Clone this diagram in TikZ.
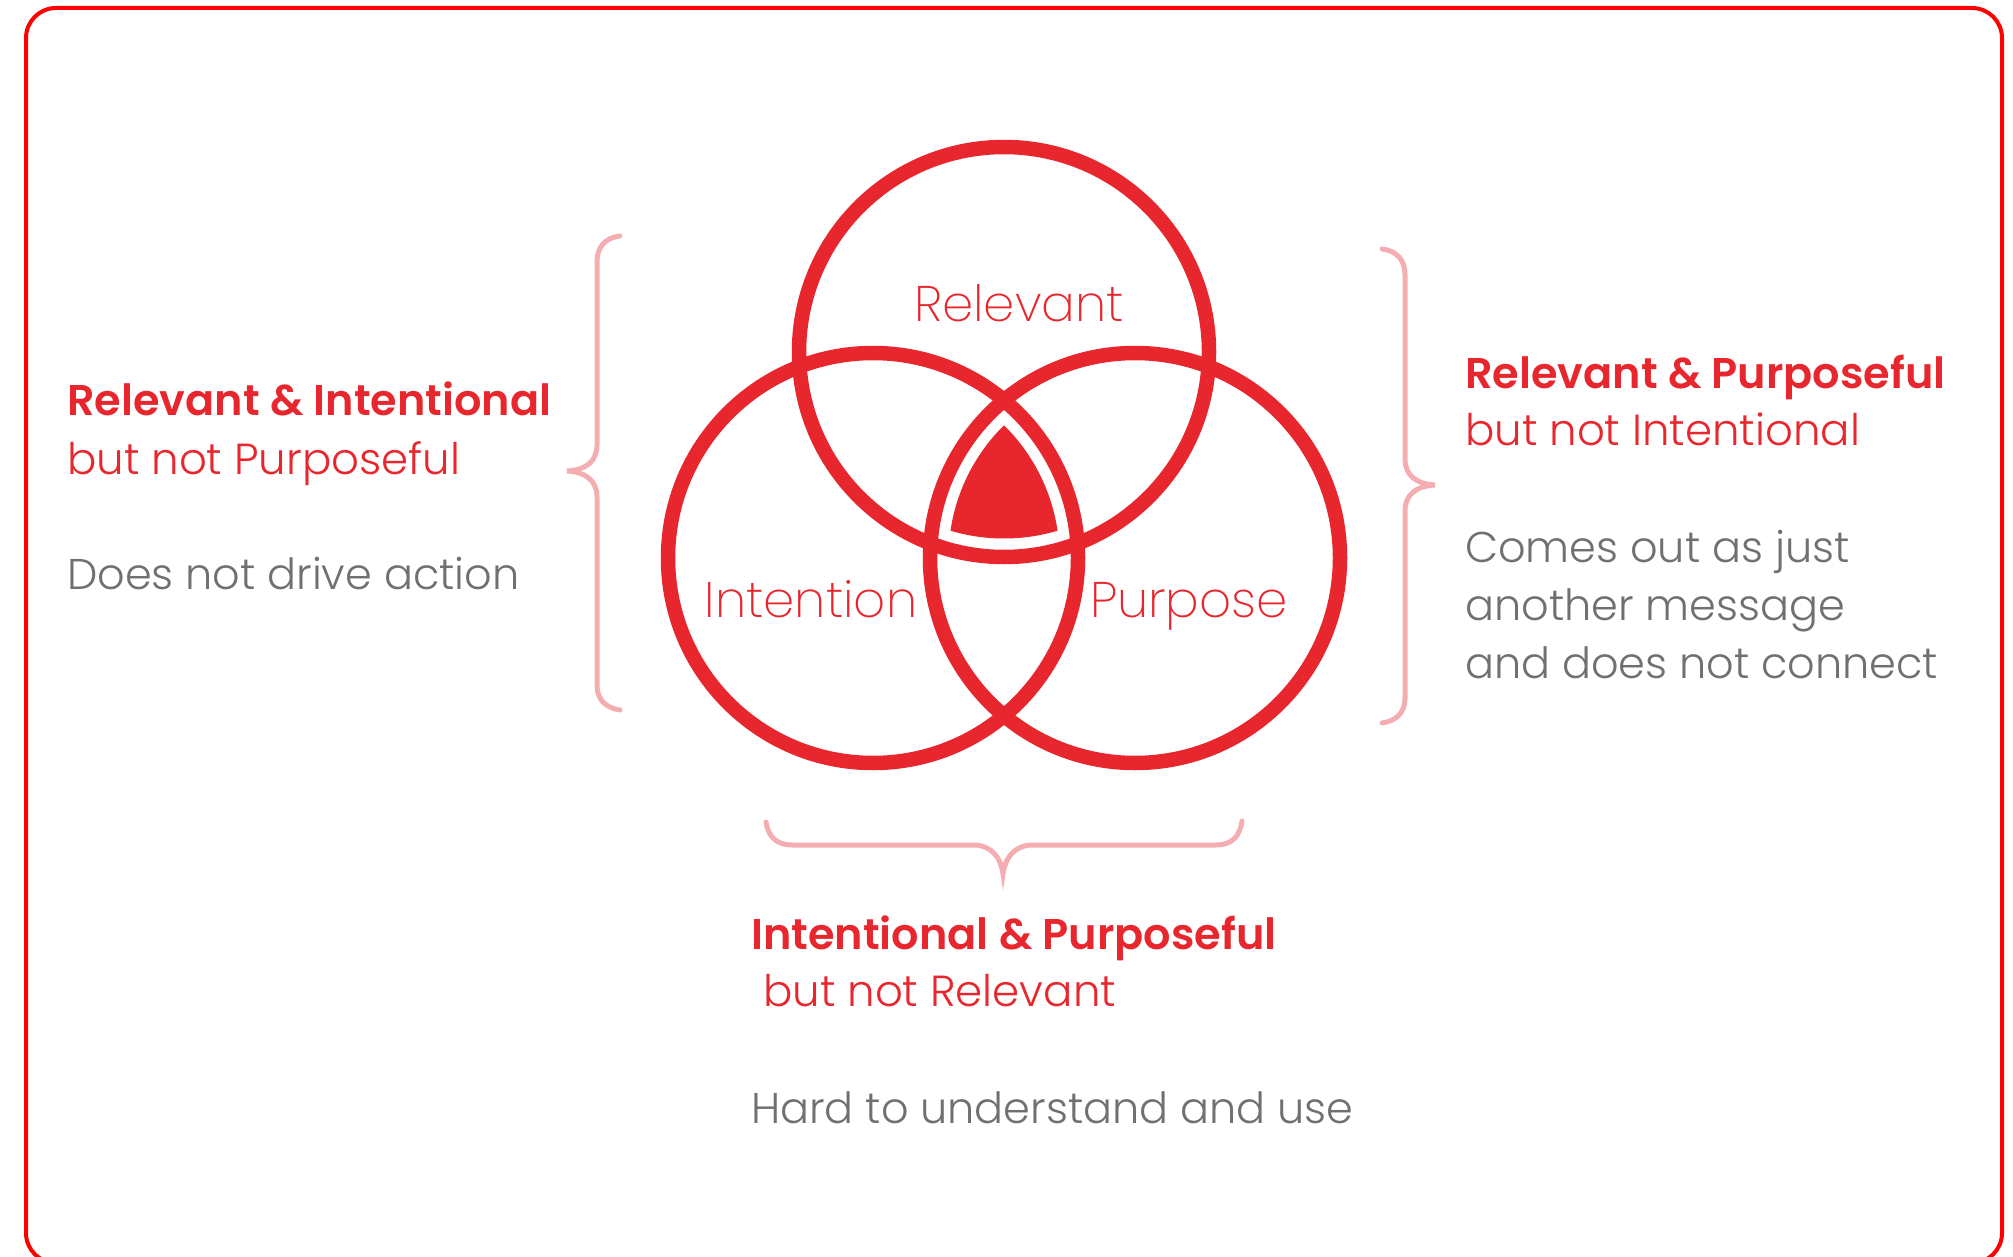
\documentclass[tikz,border=0pt]{standalone}
\usepackage{fontspec}
\setmainfont{Poppins}
\newfontfamily\boldfont{Poppins SemiBold}
\newfontfamily\bookfont{Poppins Light}
\newfontfamily\thinfont{Poppins ExtraLight}
\definecolor{vred}{HTML}{E8262D}
\definecolor{vgray}{HTML}{707070}
\definecolor{vpink}{HTML}{F4AEB1}
\definecolor{vframe}{HTML}{FF0000}
\begin{document}
\begin{tikzpicture}[x=1pt,y=-1pt,
  ring/.style={draw=vred,line width=14.5pt},
  brace/.style={draw=vpink,line width=5pt,line cap=round},
  head/.style={anchor=base west,text=vred,font=\boldfont\fontsize{43}{52}\selectfont,inner sep=0pt},
  sub/.style={anchor=base west,text=vred,font=\bookfont\fontsize{43.5}{52}\selectfont,inner sep=0pt},
  note/.style={anchor=base west,text=vgray,font=\bookfont\fontsize{43}{52}\selectfont,inner sep=0pt},
  lbl/.style={anchor=base,text=vred,font=\thinfont\fontsize{50}{60}\selectfont,inner sep=0pt}]
\useasboundingbox (0,0) rectangle (2013,1257);
\begin{scope}
  \clip (0,0) rectangle (2013,1257);
  \draw[draw=vframe,line width=4pt,rounded corners=30pt] (26,8) rectangle (2002,1263);
\end{scope}
% filled centre
\begin{scope}
  \clip (1004,352) circle[radius=186.5pt];
  \clip (873,558) circle[radius=186.5pt];
  \fill[vred] (1135,558) circle[radius=186.5pt];
\end{scope}
% circles
\draw[ring] (1004,352) circle[radius=205pt];
\draw[ring] (873,558) circle[radius=205pt];
\draw[ring] (1135,558) circle[radius=205pt];
% circle labels
\node[lbl] (lrel) at (1019,321) {Relevant};
\node[lbl] (lint) at (811,617) {Intention};
\node[lbl] (lpur) at (1189,617) {Purpose};
% braces
\draw[brace] (620,236) .. controls (604,238) and (597,248) .. (597,262) -- (597,445) .. controls (597,462) and (585,470) .. (567,471) .. controls (585,472) and (597,480) .. (597,497) -- (597,685) .. controls (597,700) and (606,708) .. (620,710);
\draw[brace] (1382,249) .. controls (1398,251) and (1405,261) .. (1405,275) -- (1405,459) .. controls (1405,476) and (1417,484) .. (1435,485) .. controls (1417,486) and (1405,494) .. (1405,511) -- (1405,698) .. controls (1405,713) and (1396,721) .. (1382,723);
\draw[brace] (766,822) .. controls (768,836) and (776,845) .. (792,845) -- (975,845) .. controls (992,846) and (1001,858) .. (1003,874) .. controls (1005,858) and (1014,846) .. (1031,845) -- (1216,845) .. controls (1232,845) and (1240,836) .. (1242,821);
% left text
\node[head] (h1) at (67,415) {Relevant \& Intentional};
\node[sub] (s1) at (67,474) {but not Purposeful};
\node[note] (n1) at (67,589) {Does not drive action};
% right text
\node[head] (h2) at (1465,388) {Relevant \& Purposeful};
\node[sub] (s2) at (1465,445) {but not Intentional};
\node[note] (n2a) at (1465,562) {Comes out as just};
\node[note] (n2b) at (1465,620) {another message};
\node[note] (n2c) at (1465,678) {and does not connect};
% bottom text
\node[head] (h3) at (751,949) {Intentional \& Purposeful};
\node[sub] (s3) at (763,1006) {but not Relevant};
\node[note] (n3) at (751,1123) {Hard to understand and use};
\end{tikzpicture}
\end{document}
